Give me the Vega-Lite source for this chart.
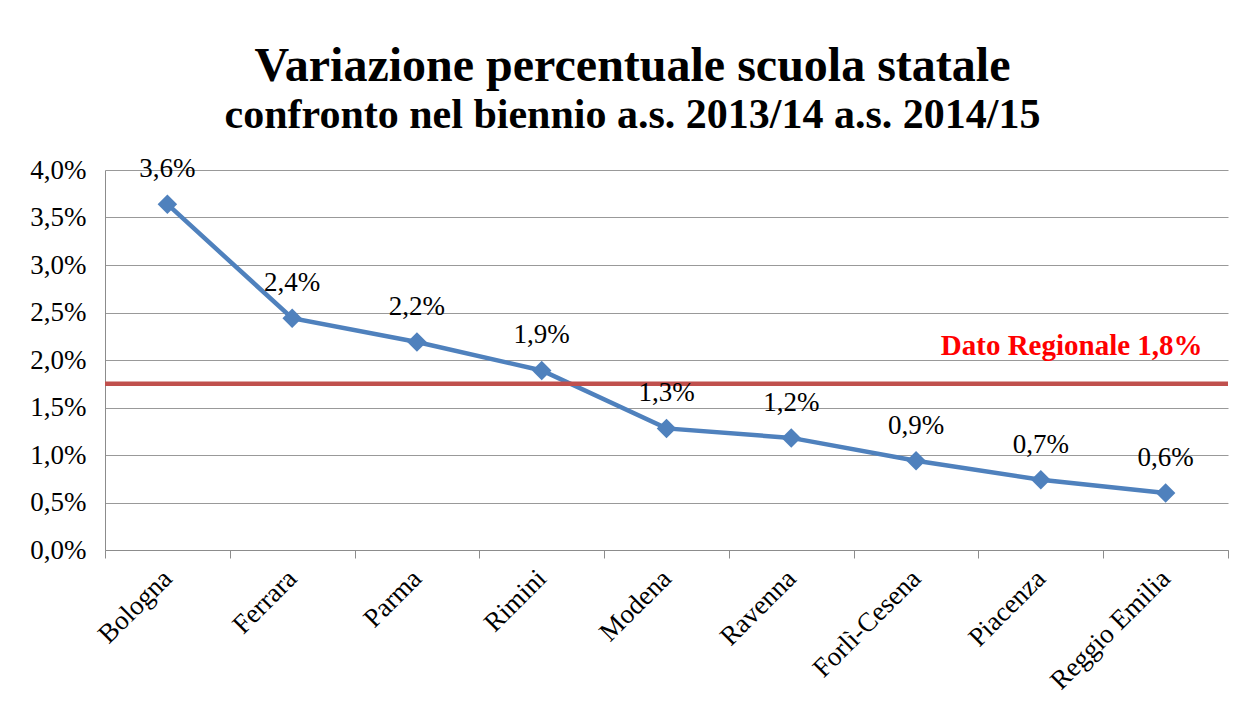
{
  "$schema": "https://vega.github.io/schema/vega-lite/v6.json",
  "width": 1123,
  "height": 380,
  "autosize": "none",
  "padding": {"left": 105, "top": 170, "right": 18, "bottom": 159},
  "background": "white",
  "title": {
    "text": "Variazione percentuale scuola statale",
    "subtitle": "confronto nel biennio a.s. 2013/14 a.s. 2014/15",
    "anchor": "middle",
    "dx": -34,
    "offset": 19,
    "font": "Liberation Serif",
    "fontSize": 48,
    "fontWeight": "bold",
    "color": "black",
    "subtitleFont": "Liberation Serif",
    "subtitleFontSize": 42,
    "subtitleFontWeight": "bold",
    "subtitleColor": "black",
    "subtitlePadding": 4
  },
  "config": {
    "view": {"stroke": null},
    "font": "Liberation Serif"
  },
  "datasets": {
    "prov": [
      {"provincia": "Bologna", "variazione": 0.0364, "etichetta": "3,6%"},
      {"provincia": "Ferrara", "variazione": 0.0244, "etichetta": "2,4%"},
      {"provincia": "Parma", "variazione": 0.0219, "etichetta": "2,2%"},
      {"provincia": "Rimini", "variazione": 0.0189, "etichetta": "1,9%"},
      {"provincia": "Modena", "variazione": 0.0128, "etichetta": "1,3%"},
      {"provincia": "Ravenna", "variazione": 0.0118, "etichetta": "1,2%"},
      {"provincia": "Forlì-Cesena", "variazione": 0.0094, "etichetta": "0,9%"},
      {"provincia": "Piacenza", "variazione": 0.0074, "etichetta": "0,7%"},
      {"provincia": "Reggio Emilia", "variazione": 0.0060, "etichetta": "0,6%"}
    ],
    "reg": [
      {"inizio": "Bologna", "fine": "Reggio Emilia", "valore": 0.0175, "etichetta": "Dato Regionale 1,8%"}
    ]
  },
  "layer": [
    {
      "data": {"name": "prov"},
      "mark": {"type": "line", "color": "#4F81BD", "strokeWidth": 4.5},
      "encoding": {
        "x": {
          "field": "provincia", "type": "nominal", "sort": null, "title": null,
          "scale": {"paddingInner": 0, "paddingOuter": 0},
          "axis": {
            "labelAngle": -45, "labelAlign": "right", "labelBaseline": "middle",
            "labelFont": "Liberation Serif", "labelFontSize": 27, "labelColor": "black",
            "labelPadding": 16,
            "domainColor": "#8c8c8c", "tickColor": "#8c8c8c", "tickSize": 8,
            "tickBand": "extent", "grid": false
          }
        },
        "y": {
          "field": "variazione", "type": "quantitative", "title": null,
          "scale": {"domain": [0, 0.04]},
          "axis": {
            "values": [0, 0.005, 0.01, 0.015, 0.02, 0.025, 0.03, 0.035, 0.04],
            "labelExpr": "replace(format(datum.value, '.1%'), '.', ',')",
            "labelFont": "Liberation Serif", "labelFontSize": 27, "labelColor": "black",
            "labelPadding": 19, "ticks": false,
            "domainColor": "#8c8c8c", "gridColor": "#999999", "gridWidth": 1
          }
        }
      }
    },
    {
      "data": {"name": "reg"},
      "mark": {"type": "rule", "color": "#C0504D", "strokeWidth": 4.5},
      "encoding": {
        "x": {"field": "inizio", "type": "nominal", "sort": null, "bandPosition": 0},
        "x2": {"field": "fine", "bandPosition": 1},
        "y": {"field": "valore", "type": "quantitative"}
      }
    },
    {
      "data": {"name": "prov"},
      "mark": {"type": "point", "shape": "diamond", "filled": true, "color": "#4F81BD", "size": 380, "opacity": 1},
      "encoding": {
        "x": {"field": "provincia", "type": "nominal", "sort": null},
        "y": {"field": "variazione", "type": "quantitative"}
      }
    },
    {
      "data": {"name": "prov"},
      "mark": {"type": "text", "font": "Liberation Serif", "fontSize": 27, "color": "black", "dy": -35},
      "encoding": {
        "x": {"field": "provincia", "type": "nominal", "sort": null},
        "y": {"field": "variazione", "type": "quantitative"},
        "text": {"field": "etichetta"}
      }
    },
    {
      "data": {"name": "reg"},
      "mark": {"type": "text", "font": "Liberation Serif", "fontSize": 29, "fontWeight": "bold", "color": "#FF0000", "align": "right", "dx": 37, "dy": -38},
      "encoding": {
        "x": {"field": "fine", "type": "nominal", "sort": null},
        "y": {"field": "valore", "type": "quantitative"},
        "text": {"field": "etichetta"}
      }
    }
  ]
}
